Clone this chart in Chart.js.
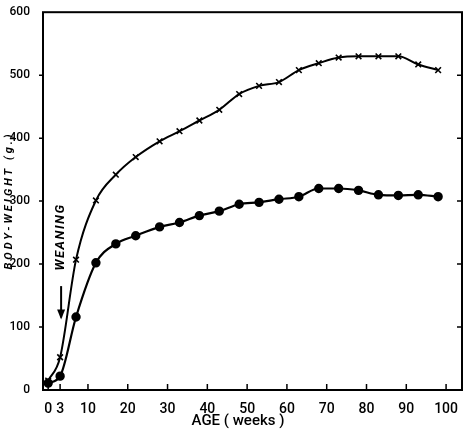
<!DOCTYPE html>
<html>
<head>
<meta charset="utf-8">
<script src="https://cdn.jsdelivr.net/npm/chart.js@4"></script>
<style>
  html, body { margin: 0; padding: 0; background: #fff; }
  #wrap { width: 474px; height: 432px; }
</style>
</head>
<body>
<div id="wrap"><canvas id="c"></canvas></div>
<script>
// Age in weeks
const weeks = [0, 3, 7, 12, 17, 22, 28, 33, 38, 43, 48, 53, 58, 63, 68, 73, 78, 83, 88, 93, 98];
// Body weight (g.) - crosses
const upper = [15, 52, 207, 301, 342, 370, 395, 411, 428, 445, 470, 483, 489, 508, 519, 528, 530, 530, 530, 517, 508];
// Body weight (g.) - dots
const lower = [11, 22, 116, 202, 232, 245, 259, 266, 277, 284, 295, 298, 303, 307, 320, 320, 317, 310, 309, 310, 307];
const xTicks = [0, 3, 10, 20, 30, 40, 50, 60, 70, 80, 90, 100];
const yTicks = [0, 100, 200, 300, 400, 500, 600];
const weaningWeek = 3;

const FONT = "Roboto, 'DejaVu Sans', sans-serif";

// frame, inward ticks and annotations
const frame = {
    id: 'frame',
    afterDraw(chart) {
        const ctx = chart.ctx;
        const a = chart.chartArea;
        const xs = chart.scales.x, ys = chart.scales.y;
        ctx.save();
        ctx.strokeStyle = '#000';
        ctx.lineWidth = 2;
        ctx.strokeRect(a.left, a.top, a.right - a.left, a.bottom - a.top);
        ctx.lineWidth = 1.5;
        ctx.beginPath();
        xTicks.forEach(v => {
            const px = xs.getPixelForValue(v);
            ctx.moveTo(px, a.bottom);
            ctx.lineTo(px, a.bottom - 6);
        });
        yTicks.slice(1, -1).forEach(v => {
            const py = ys.getPixelForValue(v);
            ctx.moveTo(a.left, py);
            ctx.lineTo(a.left - 4, py);
            ctx.moveTo(a.right, py);
            ctx.lineTo(a.right - 5, py);
        });
        ctx.stroke();

        // y title
        ctx.fillStyle = '#000';
        ctx.textAlign = 'center';
        ctx.textBaseline = 'middle';
        ctx.save();
        ctx.font = 'italic bold 11px ' + FONT;
        ctx.letterSpacing = '3px';
        ctx.translate(9, ys.getPixelForValue(301));
        ctx.rotate(-Math.PI / 2);
        ctx.fillText('BODY-WEIGHT (g.)', 0, 0);
        ctx.restore();

        // weaning note
        const wx = xs.getPixelForValue(weaningWeek) + 1;
        ctx.save();
        ctx.translate(wx, ys.getPixelForValue(243));
        ctx.rotate(-Math.PI / 2);
        ctx.font = 'italic bold 13px ' + FONT;
        ctx.letterSpacing = '1.5px';
        ctx.fillText('WEANING', 0, 0);
        ctx.restore();
        const y1 = ys.getPixelForValue(165), y2 = ys.getPixelForValue(112);
        ctx.lineWidth = 2;
        ctx.beginPath();
        ctx.moveTo(wx, y1);
        ctx.lineTo(wx, y2 - 2);
        ctx.stroke();
        ctx.beginPath();
        ctx.moveTo(wx - 4, y2 - 10);
        ctx.lineTo(wx, y2);
        ctx.lineTo(wx + 4, y2 - 10);
        ctx.closePath();
        ctx.fill();

        // x title
        ctx.font = '500 15px ' + FONT;
        ctx.fillText('AGE ( weeks )', 238, 421);
        ctx.restore();
    }
};

new Chart(document.getElementById('c'), {
    type: 'line',
    data: {
        datasets: [
            {
                data: weeks.map((w, i) => ({ x: w, y: upper[i] })),
                borderColor: '#000',
                borderWidth: 2,
                pointStyle: 'crossRot',
                pointRadius: 4,
                pointBorderWidth: 1.6,
                pointBorderColor: '#000',
                cubicInterpolationMode: 'monotone',
                fill: false
            },
            {
                data: weeks.map((w, i) => ({ x: w, y: lower[i] })),
                borderColor: '#000',
                borderWidth: 2.2,
                pointStyle: 'circle',
                pointRadius: 3.6,
                pointBackgroundColor: '#000',
                pointBorderColor: '#000',
                cubicInterpolationMode: 'monotone',
                fill: false
            }
        ]
    },
    options: {
        responsive: true,
        maintainAspectRatio: false,
        animation: false,
        layout: { padding: { top: 7, right: 12, left: 0, bottom: 0 } },
        plugins: { legend: { display: false }, tooltip: { enabled: false } },
        scales: {
            x: {
                type: 'linear',
                min: -1.3,
                max: 104,
                afterBuildTicks: s => { s.ticks = xTicks.map(v => ({ value: v })); },
                afterFit: s => { s.height = 42; },
                grid: { display: false },
                border: { display: false },
                ticks: { color: '#000', font: { family: FONT, size: 14, weight: '500' }, padding: 3, maxRotation: 0, autoSkip: false }
            },
            y: {
                min: 0,
                max: 600,
                afterBuildTicks: s => { s.ticks = yTicks.map(v => ({ value: v })); },
                afterFit: s => { s.width = 43; },
                grid: { display: false },
                border: { display: false },
                ticks: { color: '#000', font: { family: FONT, size: 12, weight: '500' }, padding: 5 }
            }
        }
    },
    plugins: [frame]
});
</script>
</body>
</html>
